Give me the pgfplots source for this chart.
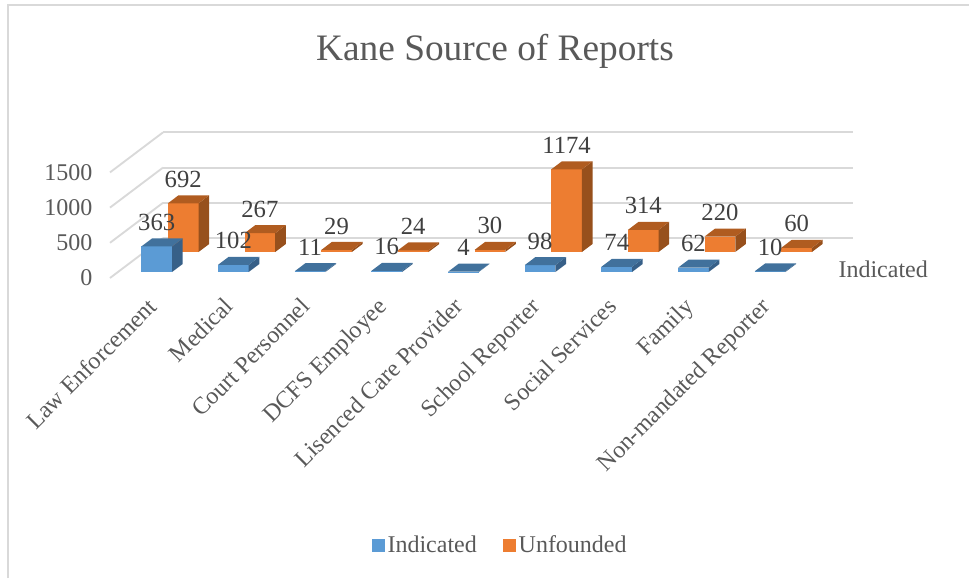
\documentclass[border=0pt]{standalone}
\usepackage{pgfplots}
\pgfplotsset{compat=1.18}
\usepackage{fontspec}
\setmainfont{Liberation Serif}
\definecolor{bluef}{HTML}{5B9BD5}
\definecolor{bluet}{HTML}{41719C}
\definecolor{blues}{HTML}{376088}
\definecolor{orgf}{HTML}{ED7D31}
\definecolor{orgt}{HTML}{B05C20}
\definecolor{orgs}{HTML}{97501C}
\definecolor{txt}{HTML}{595959}
\definecolor{lab}{HTML}{404040}
\definecolor{gridc}{HTML}{D9D9D9}
% #1 x0, #2 x1, #3 y0, #4 y1, #5 value, #6 front, #7 top, #8 side
\newcommand{\cuboid}[8]{%
 \addplot3[fill=#6,draw=none,forget plot] coordinates {(#1,#3,0)(#2,#3,0)(#2,#3,#5)(#1,#3,#5)} --cycle;
 \addplot3[fill=#8,draw=none,forget plot] coordinates {(#2,#3,0)(#2,#4,0)(#2,#4,#5)(#2,#3,#5)} --cycle;
 \addplot3[fill=#7,draw=none,forget plot] coordinates {(#1,#3,#5)(#2,#3,#5)(#2,#4,#5)(#1,#4,#5)} --cycle;
}
\newcommand{\ibar}[3]{\cuboid{#1}{#2}{0.15}{0.35}{#3}{bluef}{bluet}{blues}}
\newcommand{\ubar}[3]{\cuboid{#1}{#2}{0.65}{0.85}{#3}{orgf}{orgt}{orgs}}
\begin{document}
\begin{tikzpicture}
\useasboundingbox (0pt,0pt) rectangle (726.75pt,433.5pt);
\draw[gridc,line width=1.1pt] (6pt,0pt) -- (6pt,429.7pt) -- (726.75pt,429.7pt);
\node[text=txt,font=\fontsize{28}{30}\selectfont] at (371.25pt,395.25pt) {Kane Source of Reports};
\begin{axis}[
  anchor=origin, at={(82.5pt,225pt)},
  x={(57.5pt,0pt)}, y={(39.75pt,30pt)}, z={(0pt,0.0528pt)},
  xmin=0,xmax=9,ymin=0,ymax=1,zmin=0,zmax=1500,
  clip=false,
  axis line style={draw=none},
  tick style={draw=none},
  zmajorgrids=true,
  major grid style={gridc,line width=1.4pt},
  xtick={0.5,1.5,2.5,3.5,4.5,5.5,6.5,7.5,8.5},
  xticklabels={Law Enforcement,Medical,Court Personnel,DCFS Employee,Lisenced Care Provider,School Reporter,Social Services,Family,Non-mandated Reporter},
  ytick={0.25},
  yticklabels={Indicated},
  ztick={0,500,1000,1500},
  tick label style={font=\fontsize{18}{20}\selectfont,text=txt},
  xticklabel style={rotate=45,anchor=north east,inner sep=0pt,xshift=-10.7pt,yshift=-8.35pt},
  yticklabel style={anchor=west,inner sep=0pt,xshift=18.75pt,yshift=-1pt},
  zticklabel style={anchor=east,inner sep=0pt,xshift=-13pt},
  /pgf/number format/assume math mode=true,
  /pgf/number format/set thousands separator={},
  legend style={at={(0.526,-1.835)},anchor=center,legend columns=2,draw=none,fill=none,
    font=\fontsize{18}{20}\selectfont,text=txt,
    /tikz/every even column/.append style={column sep=18pt}},
  legend image code/.code={\fill[#1] (0pt,-4.5pt) rectangle (9pt,4.5pt);},
]
\addlegendimage{bluef}
\addlegendentry{Indicated}
\addlegendimage{orgf}
\addlegendentry{Unfounded}
% Unfounded (back row)
\ubar{0.306}{0.706}{692}
\ubar{1.306}{1.706}{267}
\ubar{2.306}{2.706}{29}
\ubar{3.306}{3.706}{24}
\ubar{4.306}{4.706}{30}
\ubar{5.306}{5.706}{1174}
\ubar{6.306}{6.706}{314}
\ubar{7.306}{7.706}{220}
\ubar{8.306}{8.706}{60}
% Indicated (front row)
\ibar{0.306}{0.706}{363}
\ibar{1.306}{1.706}{102}
\ibar{2.306}{2.706}{11}
\ibar{3.306}{3.706}{16}
\ibar{4.306}{4.706}{4}
\ibar{5.306}{5.706}{98}
\ibar{6.306}{6.706}{74}
\ibar{7.306}{7.706}{62}
\ibar{8.306}{8.706}{10}
% data labels
\addplot3[forget plot,only marks,mark=none,point meta=z,nodes near coords,
  nodes near coords style={anchor=center,yshift=18pt,text=lab,font=\fontsize{18.5}{20}\selectfont,inner sep=0pt}]
 coordinates {(0.506,0.65,692)(1.506,0.65,267)(2.506,0.65,29)(3.506,0.65,24)(4.506,0.65,30)(5.506,0.65,1174)(6.506,0.65,314)(7.506,0.65,220)(8.506,0.65,60)};
\addplot3[forget plot,only marks,mark=none,point meta=z,nodes near coords,
  nodes near coords style={anchor=center,yshift=18pt,text=lab,font=\fontsize{18.5}{20}\selectfont,inner sep=0pt}]
 coordinates {(0.506,0.15,363)(1.506,0.15,102)(2.506,0.15,11)(3.506,0.15,16)(4.506,0.15,4)(5.506,0.15,98)(6.506,0.15,74)(7.506,0.15,62)(8.506,0.15,10)};
\end{axis}
\end{tikzpicture}
\end{document}
